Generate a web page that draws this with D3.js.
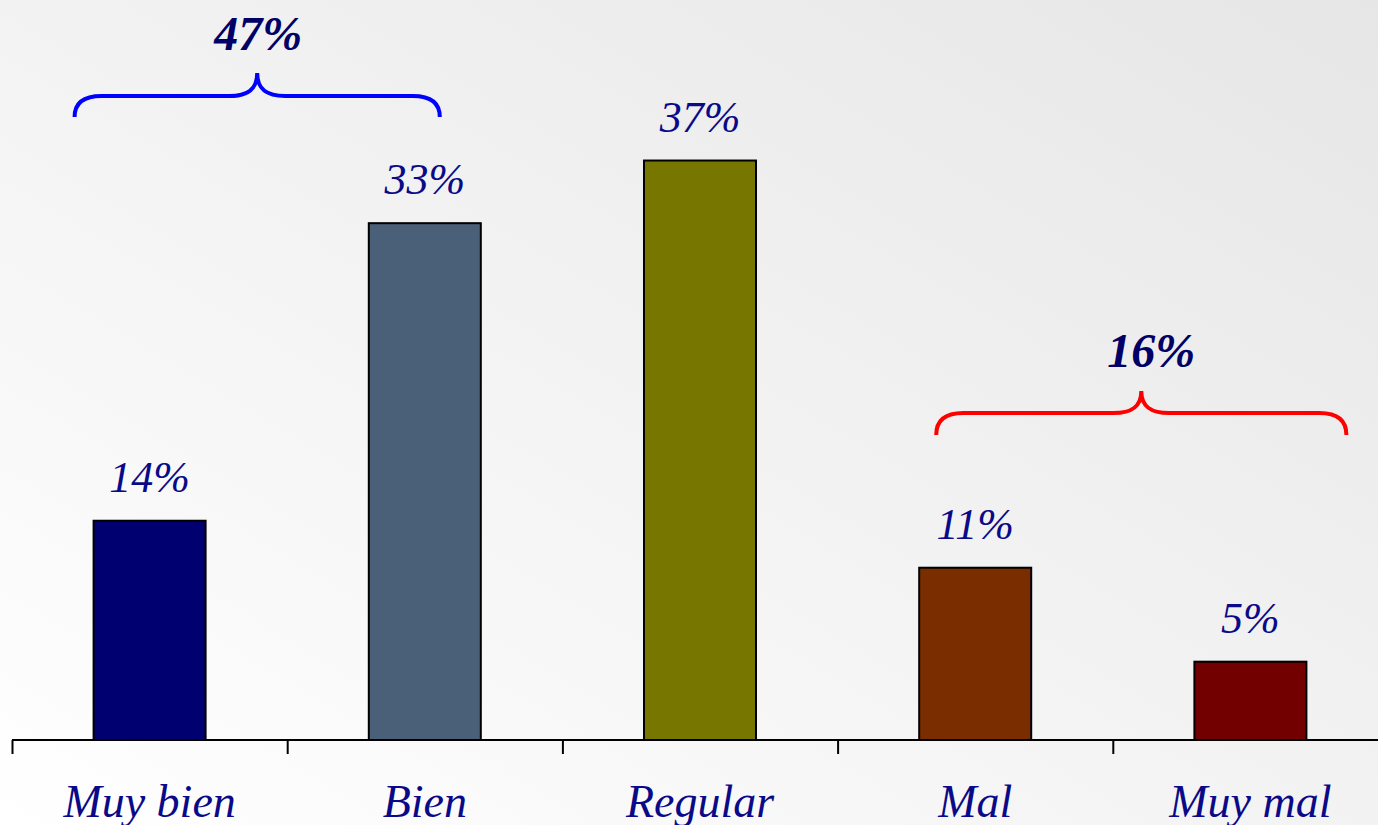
<!DOCTYPE html>
<html>
<head>
<meta charset="utf-8">
<script src="https://cdn.jsdelivr.net/npm/d3@7"></script>
<style>
  html, body { margin: 0; padding: 0; overflow: hidden; }
  text { font-family: "Liberation Serif", "Times New Roman", serif; font-style: italic; }
</style>
</head>
<body>
<script>
// data
var categories = ["Muy bien", "Bien", "Regular", "Mal", "Muy mal"];
var values = [14, 33, 37, 11, 5];
var barColors = ["#000070", "#4a5f78", "#767600", "#7a2e00", "#720000"];
var groupLabels = ["47%", "16%"];
var groupMembers = [["Muy bien", "Bien"], ["Mal", "Muy mal"]];
var groupColors = ["#0000ff", "#ff0000"];

var width = 1378, height = 825;
var baseline = 740;

var svg = d3.select("body").append("svg")
    .attr("width", width)
    .attr("height", height);

// background gradient, white bottom-left to grey top-right
var grad = svg.append("defs").append("linearGradient")
    .attr("id", "bg")
    .attr("x1", 0).attr("y1", 1).attr("x2", 1).attr("y2", 0);
grad.append("stop").attr("offset", "0%").attr("stop-color", "#ffffff");
grad.append("stop").attr("offset", "100%").attr("stop-color", "#e6e6e6");
svg.append("rect").attr("width", width).attr("height", height).attr("fill", "url(#bg)");

//scales
var tickScale = d3.scaleBand().domain(categories).range([12, 1388]);
var xScale = d3.scaleBand().domain(categories).range([12, 1388])
    .paddingInner(0.593).paddingOuter(0.2965);
var yScale = d3.scaleLinear().domain([0, 47.25]).range([baseline, 0]);

// bars
svg.selectAll("rect.bar")
    .data(values)
    .enter()
    .append("rect")
    .attr("class", "bar")
    .attr("x", function(d, i) { return xScale(categories[i]); })
    .attr("y", function(d) { return yScale(d); })
    .attr("width", xScale.bandwidth())
    .attr("height", function(d) { return baseline - yScale(d); })
    .attr("fill", function(d, i) { return barColors[i]; })
    .attr("stroke", "#000000")
    .attr("stroke-width", 2);

// axis line and ticks
svg.append("line")
    .attr("x1", 12).attr("x2", width)
    .attr("y1", baseline).attr("y2", baseline)
    .attr("stroke", "#000").attr("stroke-width", 2);
svg.selectAll("line.tick")
    .data(categories)
    .enter()
    .append("line")
    .attr("class", "tick")
    .attr("x1", function(d) { return tickScale(d) + 0.5; })
    .attr("x2", function(d) { return tickScale(d) + 0.5; })
    .attr("y1", baseline).attr("y2", baseline + 14)
    .attr("stroke", "#000").attr("stroke-width", 2);

// category labels
svg.selectAll("text.cat")
    .data(categories)
    .enter()
    .append("text")
    .attr("class", "cat")
    .attr("x", function(d) { return tickScale(d) + tickScale.bandwidth() / 2; })
    .attr("y", 817)
    .attr("text-anchor", "middle")
    .attr("font-size", 46)
    .attr("fill", "#0a0a88")
    .text(function(d) { return d; });

// value labels
svg.selectAll("text.val")
    .data(values)
    .enter()
    .append("text")
    .attr("class", "val")
    .attr("x", function(d, i) { return xScale(categories[i]) + xScale.bandwidth() / 2; })
    .attr("y", function(d) { return yScale(d) - 29; })
    .attr("text-anchor", "middle")
    .attr("font-size", 44)
    .attr("fill", "#0a0a88")
    .text(function(d) { return d + "%"; });

// braces
function bracePath(x1, x2, yEnd, yLine, yPeak) {
    var m = (x1 + x2) / 2, r = 27;
    return "M" + x1 + "," + yEnd +
        " Q" + x1 + "," + yLine + " " + (x1 + r) + "," + yLine +
        " L" + (m - 28) + "," + yLine +
        " C" + (m - 10) + "," + yLine + " " + m + "," + (yLine - 6) + " " + m + "," + yPeak +
        " C" + m + "," + (yLine - 6) + " " + (m + 10) + "," + yLine + " " + (m + 28) + "," + yLine +
        " L" + (x2 - r) + "," + yLine +
        " Q" + x2 + "," + yLine + " " + x2 + "," + yEnd;
}

var braceLayout = [
    {x1: xScale(groupMembers[0][0]) - 19, x2: xScale(groupMembers[0][1]) + xScale.bandwidth() - 41, yEnd: 117, yLine: 96, yPeak: 73, ty: 50, dx: 1},
    {x1: xScale(groupMembers[1][0]) + 17, x2: xScale(groupMembers[1][1]) + xScale.bandwidth() + 40, yEnd: 435, yLine: 413, yPeak: 391, ty: 367, dx: 10}
];

braceLayout.forEach(function(b, i) {
    svg.append("path")
        .attr("d", bracePath(b.x1, b.x2, b.yEnd, b.yLine, b.yPeak))
        .attr("fill", "none")
        .attr("stroke", groupColors[i])
        .attr("stroke-width", 4);
    svg.append("text")
        .attr("x", (b.x1 + b.x2) / 2 + b.dx)
        .attr("y", b.ty)
        .attr("text-anchor", "middle")
        .attr("font-size", 48)
        .attr("font-weight", "bold")
        .attr("fill", "#000066")
        .text(groupLabels[i]);
});
</script>
</body>
</html>
